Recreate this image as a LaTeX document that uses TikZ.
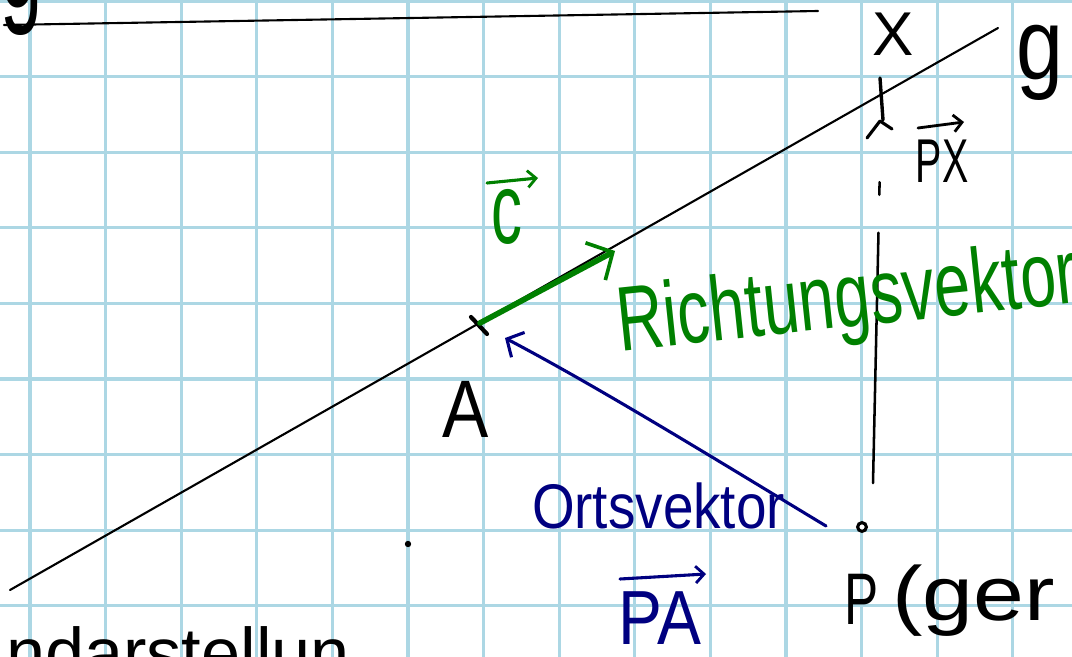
\documentclass[tikz,border=0pt]{standalone}
\usepackage{fontspec}
\setmainfont{Liberation Sans}
\usepackage{graphicx}
\usetikzlibrary{arrows.meta}
\definecolor{gridblue}{RGB}{172,215,228}
\definecolor{penGreen}{RGB}{0,128,0}
\definecolor{penNavy}{RGB}{0,0,128}
\tikzset{
  gridline/.style={draw=gridblue, line width=2.2pt},
  pen/.style={line width=1.5pt, line cap=round, line join=round},
  hand/.style={inner sep=0pt, outer sep=0pt},
  barb/.style={-{Straight Barb[length=#1, width=2*#1, line width=2pt]}},
}
\begin{document}
\begin{tikzpicture}[x=0.025cm, y=-0.025cm]
\useasboundingbox (0,0) rectangle (1072,657);
\clip (0,0) rectangle (1072,657);
\fill[white] (0,0) rectangle (1072,657);
% grid
\foreach \i in {0,...,13} \draw[gridline] ({30+75.6*\i},-5) -- ({30+75.6*\i},665);
\foreach \j in {0,...,8} \draw[gridline] (-5,{1+75.6*\j}) -- (1080,{1+75.6*\j});

% points
\coordinate (topL) at (4,25);
\coordinate (topR) at (818,11);
\coordinate (gS) at (10,590);
\coordinate (gE) at (998,28);
\coordinate (A) at (480,323);
\coordinate (cTip) at (615,251);
\coordinate (Xpt) at (881,100);
\coordinate (pxStart) at (873,483);
\coordinate (pxTip) at (881,118);
\coordinate (tickT) at (880,78);
\coordinate (tickB) at (883,120);
\coordinate (aTickT) at (471,317);
\coordinate (aTickB) at (487,334);
\coordinate (ortsStart) at (826,526);
\coordinate (ortsTip) at (505,338);
\node[circle, draw, line width=2.2pt, inner sep=2.2pt, fill=white] (P) at (862,527) {};
\node[circle, fill, inner sep=1.6pt] (dot) at (408,544) {};

% lines
\draw[pen] (topL) -- (topR);
\draw[pen] (gS) -- (gE);
\draw[pen, line width=3pt] (aTickT) -- (aTickB);
\draw[pen, line width=2.4pt] (tickT) -- (tickB);

% Richtungsvektor c
\draw[pen, penGreen, line width=4pt, -{Straight Barb[length=14pt, width=30pt, line width=2.6pt]}] (A) -- (cTip);

% Ortsvektor PA
\draw[pen, penNavy, line width=2.2pt, -{Straight Barb[length=9pt, width=20pt, line width=2.2pt]}]
  (ortsStart) .. controls (720,462) and (600,388) .. (ortsTip);

% vector PX
\draw[pen, line width=1.8pt, dash pattern=on 178pt off 27pt on 9pt off 80pt] (pxStart) -- (pxTip);
\draw[pen, line width=2.2pt] (867,138) -- (880,121) -- (892,129);

% labels
\node[hand, anchor=base] (Xlab) at (893,56) {\fontsize{44}{46}\selectfont X};
\node[hand, anchor=base] (glab) at (1040,80) {\fontsize{60}{64}\selectfont\scalebox{1}[1.2]{g}};
\node[hand, anchor=base] (gtop) at (22,8) {\fontsize{60}{64}\selectfont\scalebox{0.9}[1.6]{g}};
\node[hand, anchor=base] (PXlab) at (942,182) {\fontsize{40}{44}\selectfont\scalebox{0.7}[1.1]{PX}};
\coordinate (pxArrS) at (918,128);
\coordinate (pxArrE) at (964,122);
\draw[pen, line width=2pt, barb=6pt] (pxArrS) -- (pxArrE);

\node[hand, anchor=base, text=penGreen] (clab) at (507,243) {\fontsize{55}{60}\selectfont\scalebox{0.8}[1.3]{c}};
\coordinate (cArrS) at (487,183);
\coordinate (cArrE) at (538,178);
\draw[pen, penGreen, line width=2.2pt, barb=6pt] (cArrS) -- (cArrE);

\node[hand, anchor=base west, text=penGreen, rotate=6] (richt) at (620,351)
  {\fontsize{45}{50}\selectfont\scalebox{1.02}[1.45]{Richtungsvektor}};

\node[hand, anchor=base] (Alab) at (466,437) {\fontsize{58}{62}\selectfont\scalebox{0.85}[1]{A}};

\node[hand, anchor=base west, text=penNavy] (orts) at (532,528)
  {\fontsize{39}{44}\selectfont\scalebox{1}[1.15]{Ortsvektor}};

\node[hand, anchor=base, text=penNavy] (PAlab) at (660,644) {\fontsize{52}{56}\selectfont\scalebox{0.9}[1.05]{PA}};
\coordinate (paArrS) at (620,579);
\coordinate (paArrE) at (706,574);
\draw[pen, penNavy, line width=2.2pt, barb=6pt] (paArrS) -- (paArrE);

\node[hand, anchor=base] (Plab) at (862,624) {\fontsize{52}{56}\selectfont\scalebox{0.7}[1]{P}};
\node[hand, anchor=base west] (given) at (892,620) {\fontsize{52}{58}\selectfont\scalebox{1.25}[1.05]{(ger}};

\node[hand, anchor=base west] (bottom) at (6,677) {\fontsize{50}{54}\selectfont ndarstellun};
\end{tikzpicture}
\end{document}
